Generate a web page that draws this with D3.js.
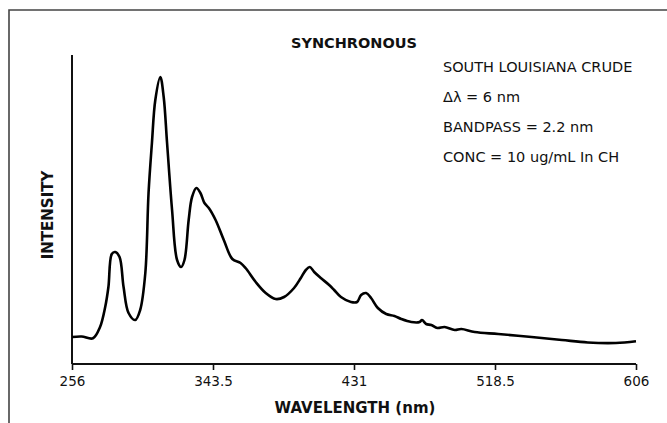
<!DOCTYPE html>
<html>
<head>
<meta charset="utf-8">
<script src="https://cdn.jsdelivr.net/npm/d3@7"></script>
<style>
  body { margin: 0; background: #fff; }
  text { font-family: "DejaVu Sans", Verdana, sans-serif; fill: #111; }
</style>
</head>
<body>
<div class="main-container"></div>
<script>
// spectrum: wavelength (nm) and relative intensity
const wavelength = [256, 262, 269, 273.4, 276.6, 278.6, 280.7, 282.8, 285.5, 288, 291.1, 295.2, 298.3,
  301.5, 303.5, 305.6, 307.7, 310.8, 312.9, 315, 318.1, 321.2, 323.7, 325.8, 328.4, 330.5, 333.2,
  335.7, 338.2, 340.9, 345.1, 350.2, 355.5, 360.6, 363.7, 370, 376.2, 382.4, 387.6, 393.8, 398,
  401.1, 403.6, 406.3, 410.4, 415.6, 418.7, 422.9, 429.1, 432.9, 435.4, 438.5, 441.6, 445.8, 451,
  456.1, 460.3, 466.5, 471.7, 473.2, 475.8, 479, 482.7, 487.2, 493.5, 497.6, 505.9, 520.5, 541.2,
  560, 576.1, 593.5, 606];
const intensity = [27, 27.5, 25.7, 37, 57, 77, 110, 112, 107, 77, 51, 44, 54,
  91, 171, 221, 264, 287, 267, 221, 154, 104, 97, 104, 144, 167, 176,
  171, 161, 156, 144, 124, 105, 101, 96, 82, 71, 65, 67, 76, 86,
  94, 97, 92, 86, 79, 74, 67, 62, 62, 69, 71, 66, 56, 50,
  48, 45, 42, 42, 44, 40, 39, 36, 37, 34, 35, 32, 30, 27,
  24, 21.5, 21, 22.7];
const xTicks = [256, 343.5, 431, 518.5, 606];
const notes = ["SOUTH LOUISIANA CRUDE", "\u0394\u03bb = 6 nm", "BANDPASS = 2.2 nm", "CONC = 10 ug/mL In CH"];

const data = wavelength.map((w, i) => ({w: w, v: intensity[i]}));

const W = 667, H = 423;
const margin = {top: 55, right: 31, bottom: 59, left: 72};
const width = W - margin.left - margin.right,
  height = H - margin.top - margin.bottom;

const root = d3.select(".main-container")
  .append("svg")
  .attr("width", W)
  .attr("height", H);

// outer frame, only top and left edges show inside the picture
root.append("path")
  .attr("d", "M9," + H + "V10H" + W)
  .attr("fill", "none")
  .attr("stroke", "#444")
  .attr("stroke-width", 1.6);

const svg = root.append("g")
  .attr("transform", "translate(" + margin.left + "," + margin.top + ")");

let x = d3.scaleLinear()
  .domain([256, 606])
  .range([0, width]);

let y = d3.scaleLinear()
  .domain([0, 309])
  .range([height, 0]);

const xAxis = svg.append("g")
  .attr("transform", "translate(0," + height + ")")
  .call(d3.axisBottom(x).tickValues(xTicks).tickFormat(d => d).tickSize(6).tickPadding(6));
xAxis.select(".domain").attr("stroke", "#111").attr("stroke-width", 2).attr("d", "M0,0H" + width);
xAxis.selectAll(".tick line").attr("stroke", "#111").attr("stroke-width", 1.6);
xAxis.selectAll("text").style("font-size", "13.5px").attr("fill", "#222");

svg.append("line")
  .attr("x1", 0).attr("x2", 0)
  .attr("y1", 0).attr("y2", height)
  .attr("stroke", "#111")
  .attr("stroke-width", 2);

svg.append("path")
  .datum(data)
  .attr("fill", "none")
  .attr("stroke", "#000")
  .attr("stroke-width", 2.6)
  .attr("stroke-linejoin", "round")
  .attr("d", d3.line()
    .x(d => x(d.w))
    .y(d => y(d.v))
    .curve(d3.curveCatmullRom.alpha(0.5))
  );

root.append("text")
  .attr("x", 354)
  .attr("y", 48)
  .attr("text-anchor", "middle")
  .style("font-size", "14.5px")
  .style("font-weight", "bold")
  .text("SYNCHRONOUS");

root.append("text")
  .attr("x", 355)
  .attr("y", 413)
  .attr("text-anchor", "middle")
  .style("font-size", "15px")
  .style("font-weight", "bold")
  .text("WAVELENGTH (nm)");

root.append("text")
  .attr("transform", "translate(53,215)rotate(-90)")
  .attr("text-anchor", "middle")
  .style("font-size", "15px")
  .style("font-weight", "bold")
  .text("INTENSITY");

root.selectAll("text.note")
  .data(notes)
  .join("text")
  .attr("class", "note")
  .attr("x", 443)
  .attr("y", (d, i) => 72 + i * 30)
  .style("font-size", "14.5px")
  .text(d => d);
</script>
</body>
</html>
